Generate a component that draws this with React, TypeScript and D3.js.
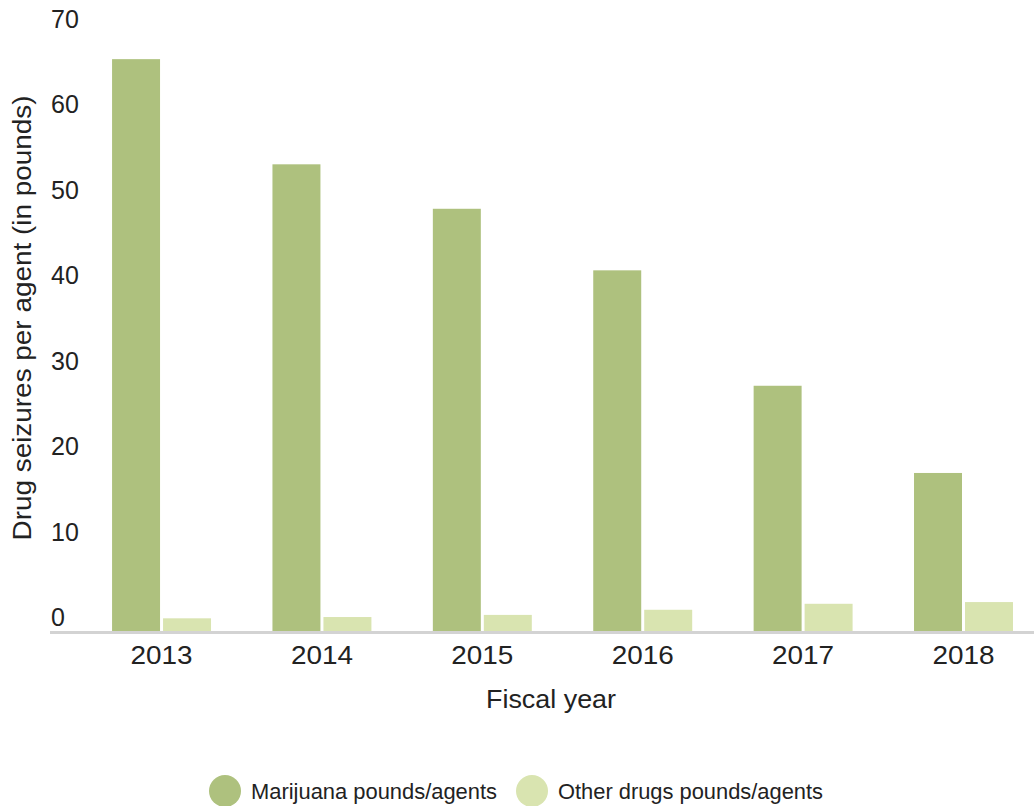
import React from "react";
import * as d3 from "d3";

const years = ["2013", "2014", "2015", "2016", "2017", "2018"];
const marijuana = [67.0, 54.7, 49.5, 42.3, 28.8, 18.6];
const otherDrugs = [1.6, 1.75, 2.0, 2.6, 3.3, 3.5];
const seriesNames = ["Marijuana pounds/agents", "Other drugs pounds/agents"];
const seriesColors = ["#aec17e", "#d9e4b0"];
const yTicks = [0, 10, 20, 30, 40, 50, 60, 70];

const W = 1034;
const H = 806;

export default function App() {
  const x = d3
    .scaleBand<string>()
    .domain(years)
    .range([50, 1034])
    .paddingInner(0.383)
    .paddingOuter(0.259)
    .align(0.747);
  const inner = d3
    .scaleBand<number>()
    .domain([0, 1])
    .range([0, x.bandwidth()])
    .paddingInner(0.0588)
    .paddingOuter(0);
  const y = d3.scaleLinear().domain([0, 70]).range([632, 33.5]);
  const series = [marijuana, otherDrugs];
  const font = "'Liberation Sans', Arial, sans-serif";

  return (
    <svg
      width={W}
      height={H}
      style={{ position: "absolute", left: 0, top: 0, background: "#fff" }}
      fontFamily={font}
    >
      {series.map((vals, si) =>
        vals.map((v, i) => (
          <rect
            key={`${si}-${i}`}
            x={(x(years[i]) as number) + (inner(si) as number)}
            y={y(v)}
            width={inner.bandwidth()}
            height={y(0) - y(v)}
            fill={seriesColors[si]}
          />
        ))
      )}
      <line x1={50} x2={1034} y1={y(0) + 0.5} y2={y(0) + 0.5} stroke="#d3d3d3" strokeWidth={3} />
      {yTicks.map((t) => (
        <text
          key={t}
          x={51}
          y={y(t) - 6}
          fontSize={25}
          fill="#222"
          textAnchor="start"
        >
          {t}
        </text>
      ))}
      {years.map((yr) => (
        <text
          key={yr}
          x={(x(yr) as number) + x.bandwidth() / 2}
          y={664}
          fontSize={26}
          fill="#222"
          textAnchor="middle"
          textLength={62}
          lengthAdjust="spacingAndGlyphs"
        >
          {yr}
        </text>
      ))}
      <text
        x={551}
        y={708}
        fontSize={26}
        fill="#222"
        textAnchor="middle"
        textLength={130}
        lengthAdjust="spacingAndGlyphs"
      >
        Fiscal year
      </text>
      <text
        transform={`translate(31, 318) rotate(-90)`}
        fontSize={25}
        fill="#222"
        textAnchor="middle"
        textLength={445}
        lengthAdjust="spacingAndGlyphs"
      >
        Drug seizures per agent (in pounds)
      </text>
      {seriesNames.map((name, i) => {
        const cx = i === 0 ? 225 : 532;
        const tl = i === 0 ? 246 : 265;
        return (
          <g key={name}>
            <circle cx={cx} cy={791} r={16} fill={seriesColors[i]} />
            <text
              x={cx + 26}
              y={799}
              fontSize={22}
              fill="#222"
              textLength={tl}
              lengthAdjust="spacingAndGlyphs"
            >
              {name}
            </text>
          </g>
        );
      })}
    </svg>
  );
}
